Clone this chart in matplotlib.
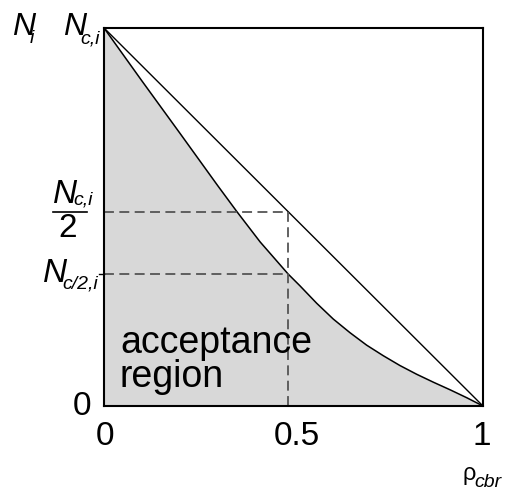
import matplotlib
matplotlib.use("Agg")
import matplotlib.pyplot as plt

plt.rcParams['font.family'] = ['Liberation Sans', 'DejaVu Sans']

# acceptance-region boundary
rho = [0, 0.1, 0.2, 0.3, 0.35, 0.412, 0.486, 0.517, 0.561, 0.605, 0.649,
       0.693, 0.737, 0.781, 0.825, 0.869, 0.913, 0.957, 1.0]
N_curve = [1, 0.860, 0.722, 0.583, 0.515, 0.434, 0.349, 0.318, 0.272, 0.230, 0.194,
           0.161, 0.133, 0.107, 0.084, 0.063, 0.043, 0.022, 0]

# straight line N_c,i -> 1
diag_x = [0, 1]
diag_y = [1, 0]

# dashed reference levels
rho_half = 0.486
N_half = 0.514
N_c2 = 0.349

x_ticks = [0, 0.5, 1]
x_tick_labels = ['0', '0.5', '1']

fig = plt.figure(figsize=(5.06, 4.91), dpi=100)
ax = fig.add_axes([0.2055, 0.1731, 0.749, 0.770])

ax.fill_between(rho, N_curve, 0, color='#d8d8d8', lw=0)
ax.plot(rho, N_curve, color='black', lw=1.1)
ax.plot(diag_x, diag_y, color='black', lw=1.0)

dash = dict(color='#555555', lw=1.3, ls=(0, (5.5, 3)))
ax.plot([0, rho_half], [N_half, N_half], **dash)
ax.plot([0, rho_half], [N_c2, N_c2], **dash)
ax.plot([rho_half, rho_half], [0, N_half], **dash)

ax.set_xlim(0, 1)
ax.set_ylim(0, 1)
ax.set_xticks([])
ax.set_yticks([])
for s in ax.spines.values():
    s.set_linewidth(1.5)

# small tick at N_c/2,i
ax.plot([-0.012, 0], [N_c2, N_c2], color='black', lw=1.0, clip_on=False)

fs = 24
offs = [0.003, 0.01, -0.002]
for xt, lab, o in zip(x_ticks, x_tick_labels, offs):
    ax.text(xt + o, -0.04, lab, fontsize=fs, ha='center', va='top')
ax.text(-0.058, 0.0, '0', fontsize=fs, ha='center', va='center')

it = dict(fontstyle='italic', clip_on=False)
# N_i and N_c,i at the top
ax.text(-0.243, 0.981, 'N', fontsize=23, ha='left', va='baseline', **it)
ax.text(-0.195, 0.960, 'i', fontsize=14, ha='left', va='baseline', **it)
ax.text(-0.108, 0.981, 'N', fontsize=23, ha='left', va='baseline', **it)
ax.text(-0.063, 0.960, 'c,i', fontsize=14, ha='left', va='baseline', **it)

# N_c,i / 2
ax.text(-0.135, 0.537, 'N', fontsize=24, ha='left', va='baseline', **it)
ax.text(-0.082, 0.534, 'c,i', fontsize=14, ha='left', va='baseline', **it)
ax.plot([-0.135, -0.045], [N_half, N_half], color='black', lw=1.2, clip_on=False)
ax.text(-0.095, 0.447, '2', fontsize=fs, ha='center', va='baseline')

# N_c/2,i
ax.text(-0.161, 0.328, 'N', fontsize=24, ha='left', va='baseline', **it)
ax.text(-0.111, 0.312, 'c/2,i', fontsize=14, ha='left', va='baseline', **it)

ax.text(0.042, 0.140, 'acceptance', fontsize=27, ha='left', va='baseline')
ax.text(0.042, 0.050, 'region', fontsize=27, ha='left', va='baseline')

ax.text(0.945, -0.196, 'ρ', fontsize=17, ha='left', va='baseline', clip_on=False)
ax.text(0.978, -0.214, 'cbr', fontsize=14, ha='left', va='baseline', **it)

fig.savefig('out.png', dpi=100)
